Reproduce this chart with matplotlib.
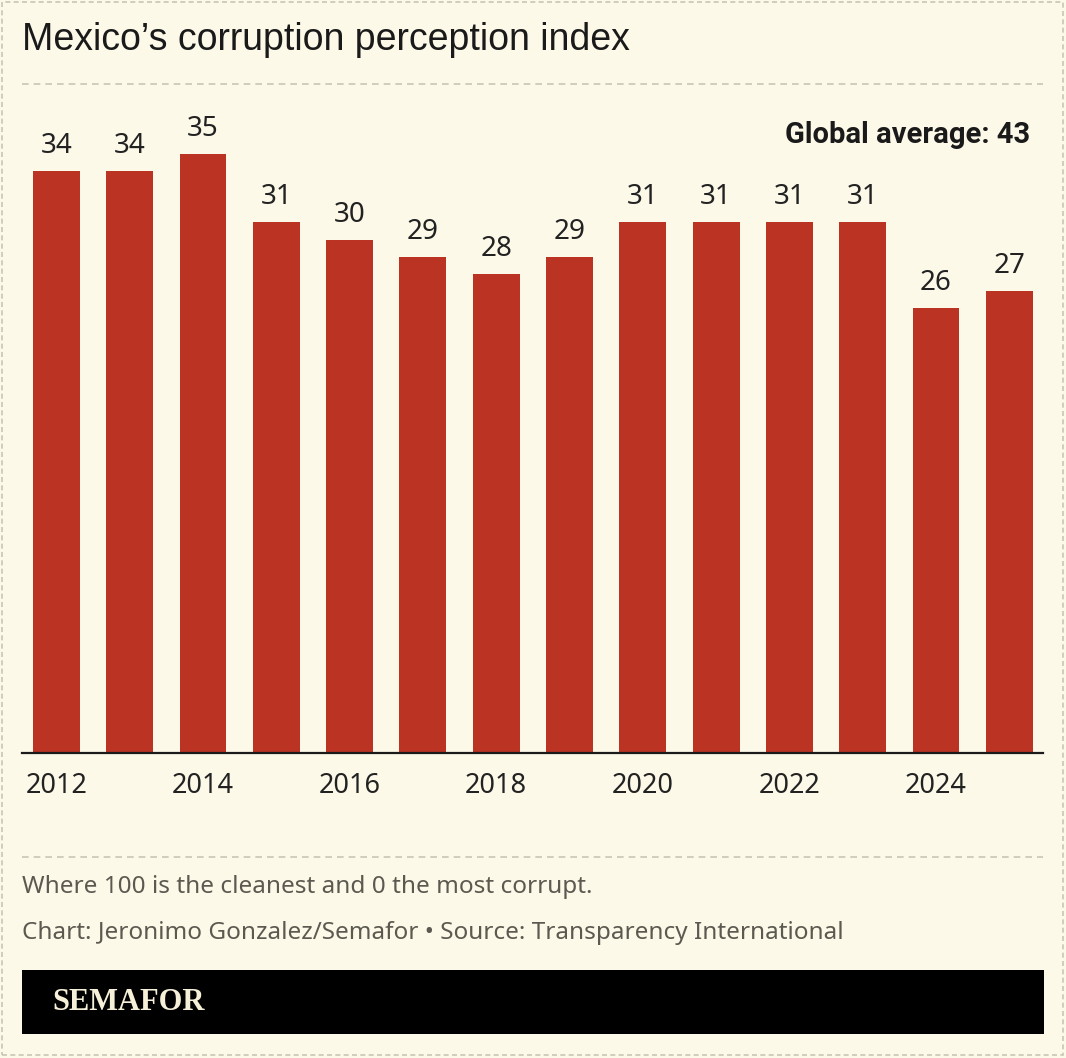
import matplotlib
matplotlib.use("Agg")
import matplotlib.pyplot as plt
from matplotlib.patches import Rectangle
import numpy as np

years = [2012, 2013, 2014, 2015, 2016, 2017, 2018, 2019, 2020, 2021, 2022, 2023, 2024, 2025]
scores = [34, 34, 35, 31, 30, 29, 28, 29, 31, 31, 31, 31, 26, 27]
tick_years = [2012, 2014, 2016, 2018, 2020, 2022, 2024]

title = "Mexico\u2019s corruption perception index"
annotation = "Global average: 43"
note = "Where 100 is the cleanest and 0 the most corrupt."
credit = "Chart: Jeronimo Gonzalez/Semafor \u2022 Source: Transparency International"
brand = "SEMAFOR"

BG = "#fcf9e8"
BAR = "#bb3322"
TXT = "#222222"
GREY = "#5c5a50"
DASH = "#c9c6b8"

W, H = 1066, 1058
fig = plt.figure(figsize=(W / 100, H / 100), dpi=100, facecolor=BG)

def fx(px):
    return px / W

def fy(py):
    return 1 - py / H

num_font = ["Noto Sans", "DejaVu Sans"]

# axes: left 22px, right 1043px, baseline at 753px
ymax = 38
px_per_unit = 599 / 35
ax_h_px = ymax * px_per_unit
ax = fig.add_axes([fx(22), fy(753), fx(1043) - fx(22), ax_h_px / H])
ax.set_facecolor("none")
x = np.arange(len(years))
ax.bar(x, scores, width=0.64, color=BAR, zorder=2)
ax.set_xlim(-0.47, len(years) - 1 + 0.46)
ax.set_ylim(0, ymax)
for s in ["top", "right", "left"]:
    ax.spines[s].set_visible(False)
ax.spines["bottom"].set_color("#1a1a1a")
ax.spines["bottom"].set_linewidth(1.6)
ax.set_yticks([])
ax.set_xticks([years.index(y) for y in tick_years])
ax.set_xticklabels([str(y) for y in tick_years], fontsize=19.5, color=TXT, family=num_font)
ax.tick_params(axis="x", length=0, pad=13.5)

for xi, v in zip(x, scores):
    ax.annotate(str(v), (xi, v), xytext=(0, 13), textcoords="offset points",
                ha="center", va="baseline", fontsize=20, color=TXT, family=num_font)

fig.text(fx(1030), fy(135), annotation, ha="right", va="center", fontsize=21,
         fontweight="bold", color="#1a1a1a",
         family=["Roboto", "DejaVu Sans"])

fig.text(fx(22), fy(40), title, ha="left", va="center", fontsize=27, color="#1a1a1a",
         family=["Liberation Sans", "DejaVu Sans"])

# dashed separators
fig.add_artist(plt.Line2D([fx(22), fx(1043)], [fy(84), fy(84)], color=DASH, lw=1.2,
                          linestyle=(0, (4, 3))))
fig.add_artist(plt.Line2D([fx(22), fx(1043)], [fy(857), fy(857)], color=DASH, lw=1.2,
                          linestyle=(0, (4, 3))))

fig.text(fx(22), fy(887), note, ha="left", va="center", fontsize=17.5, color=GREY,
         family=num_font)
fig.text(fx(22), fy(933), credit, ha="left", va="center", fontsize=17.5, color=GREY,
         family=num_font)

# brand bar
fig.add_artist(Rectangle((fx(22), fy(1034)), fx(1044) - fx(22), fy(970) - fy(1034),
                         transform=fig.transFigure, facecolor="black", edgecolor="none"))
fig.text(fx(52), fy(1002), brand, ha="left", va="center", fontsize=22, fontweight="bold",
         color="#f6f0d8", family=["Liberation Serif", "DejaVu Serif"])

# outer dashed border
fig.add_artist(Rectangle((fx(2), fy(1055)), fx(1063) - fx(2), fy(2) - fy(1055),
                         transform=fig.transFigure, facecolor="none", edgecolor=DASH,
                         lw=1.2, linestyle=(0, (3, 2))))

fig.savefig("out.png", dpi=100, facecolor=BG)
